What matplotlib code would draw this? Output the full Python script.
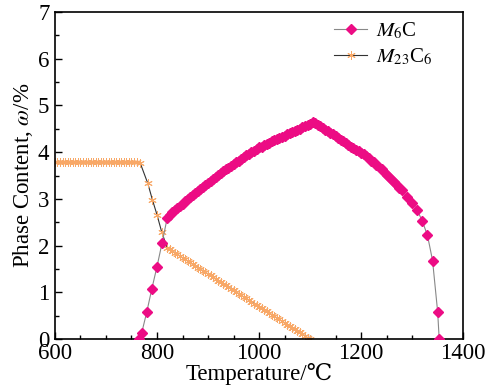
import matplotlib
matplotlib.use("Agg")
import matplotlib.pyplot as plt
from matplotlib.ticker import MultipleLocator

plt.rcParams['font.family'] = ['Liberation Serif', 'DejaVu Serif', 'Noto Sans CJK SC', 'DejaVu Sans']
plt.rcParams['mathtext.fontset'] = 'stix'

# M6C phase content (temperature degC, content %)
m6c_T = [765, 770, 780, 790, 800, 810,
         820, 825, 830, 835, 840, 845, 850, 855, 860, 865, 870, 875, 880, 885, 890, 895,
         900, 905, 910, 915, 920, 925, 930, 935, 940, 945, 950, 955, 960, 965, 970, 975,
         980, 985, 990, 995, 1000, 1005, 1010, 1015, 1020, 1025, 1030, 1035, 1040, 1045,
         1050, 1055, 1060, 1065, 1070, 1075, 1080, 1085, 1090, 1095, 1100, 1105,
         1110, 1115, 1120, 1125, 1130, 1135, 1140, 1145, 1150, 1155, 1160, 1165, 1170,
         1175, 1180, 1185, 1190, 1195, 1200, 1205, 1210, 1215, 1220, 1225, 1230, 1235,
         1240, 1245, 1250, 1255, 1260, 1265, 1270, 1275, 1280,
         1290, 1300, 1310, 1320, 1330, 1340, 1350, 1353]
m6c_w = [0.00, 0.13, 0.58, 1.08, 1.55, 2.06,
         2.59, 2.65, 2.71, 2.76, 2.80, 2.85, 2.90, 2.95, 2.99, 3.04, 3.08, 3.13, 3.17, 3.22, 3.26, 3.30,
         3.34, 3.39, 3.43, 3.47, 3.51, 3.55, 3.59, 3.63, 3.67, 3.71, 3.75, 3.79, 3.82, 3.86, 3.89, 3.93,
         3.96, 4.00, 4.03, 4.07, 4.10, 4.12, 4.15, 4.18, 4.20, 4.23, 4.25, 4.28, 4.30, 4.33,
         4.35, 4.38, 4.40, 4.43, 4.45, 4.48, 4.50, 4.53, 4.55, 4.58, 4.61, 4.64,
         4.62, 4.58, 4.55, 4.52, 4.48, 4.45, 4.41, 4.38, 4.34, 4.31, 4.27, 4.24, 4.20,
         4.16, 4.12, 4.09, 4.05, 4.02, 3.98, 3.95, 3.91, 3.87, 3.82, 3.78, 3.73, 3.68,
         3.63, 3.58, 3.52, 3.47, 3.41, 3.36, 3.30, 3.24, 3.18,
         3.05, 2.92, 2.76, 2.52, 2.22, 1.68, 0.58, 0.00]

# M23C6 phase content
m23_T = [600, 605, 610, 615, 620, 625, 630, 635, 640, 645, 650, 655, 660, 665, 670, 675,
         680, 685, 690, 695, 700, 705, 710, 715, 720, 725, 730, 735, 740, 745, 750, 755,
         760, 767, 782, 791, 800, 809,
         820, 825, 830, 835, 840, 845, 850, 855, 860, 865, 870, 875, 880, 885, 890, 895,
         900, 905, 910, 915, 920, 925, 930, 935, 940, 945, 950, 955, 960, 965, 970, 975,
         980, 985, 990, 995, 1000, 1005, 1010, 1015, 1020, 1025, 1030, 1035, 1040, 1045,
         1050, 1055, 1060, 1065, 1070, 1075, 1080, 1085, 1090, 1095, 1100]
m23_w = [3.78, 3.78, 3.78, 3.78, 3.78, 3.78, 3.78, 3.78, 3.78, 3.78, 3.78, 3.78, 3.78, 3.78, 3.78, 3.78,
         3.78, 3.78, 3.78, 3.78, 3.78, 3.78, 3.78, 3.78, 3.78, 3.78, 3.78, 3.78, 3.78, 3.78, 3.78, 3.78,
         3.78, 3.77, 3.33, 2.98, 2.66, 2.30,
         1.95, 1.92, 1.88, 1.85, 1.81, 1.78, 1.74, 1.71, 1.67, 1.64, 1.60, 1.57, 1.53, 1.50, 1.46, 1.43,
         1.39, 1.36, 1.32, 1.29, 1.25, 1.22, 1.18, 1.15, 1.11, 1.08, 1.04, 1.01, 0.97, 0.94, 0.90, 0.87,
         0.83, 0.80, 0.76, 0.73, 0.69, 0.66, 0.62, 0.59, 0.55, 0.52, 0.49, 0.45, 0.42, 0.38,
         0.35, 0.31, 0.28, 0.24, 0.21, 0.17, 0.14, 0.10, 0.07, 0.03, 0.00]

fig = plt.figure(figsize=(5.04, 3.87), dpi=100)
ax = fig.add_axes([0.109, 0.124, 0.81, 0.845])

ax.plot(m6c_T, m6c_w, color='#888888', lw=0.8, marker='D', ms=5,
        mfc='#ec0c84', mec='#ec0c84', label=r'$M_{6}$C', zorder=3)
ax.plot(m23_T, m23_w, color='#333333', lw=0.8, marker=(6, 2, 0), ms=6,
        mfc='#f8a867', mec='#f8a867', mew=0.7, label=r'$M_{23}$C$_{6}$', zorder=2)

ax.set_xlim(600, 1400)
ax.set_ylim(0, 7)
ax.xaxis.set_major_locator(MultipleLocator(200))
ax.xaxis.set_minor_locator(MultipleLocator(50))
ax.yaxis.set_major_locator(MultipleLocator(1))
ax.yaxis.set_minor_locator(MultipleLocator(0.5))
ax.tick_params(which='both', direction='in', top=False, right=False, labelsize=16.5)
ax.tick_params(axis='x', which='major', pad=3)
ax.tick_params(axis='y', which='major', pad=4)
ax.tick_params(which='major', length=5, width=1)
ax.tick_params(which='minor', length=3, width=1)
for s in ax.spines.values():
    s.set_linewidth(1.2)

ax.set_xlabel('Temperature/℃', fontsize=16.5, labelpad=-1)
ax.set_ylabel(r'Phase Content, $\omega$/%', fontsize=16.5, labelpad=2)

ax.legend(loc='upper right', frameon=False, fontsize=15, handlelength=1.6,
          bbox_to_anchor=(0.97, 1.03), labelspacing=0.25, handletextpad=0.4)

fig.savefig('out.png', dpi=100)
